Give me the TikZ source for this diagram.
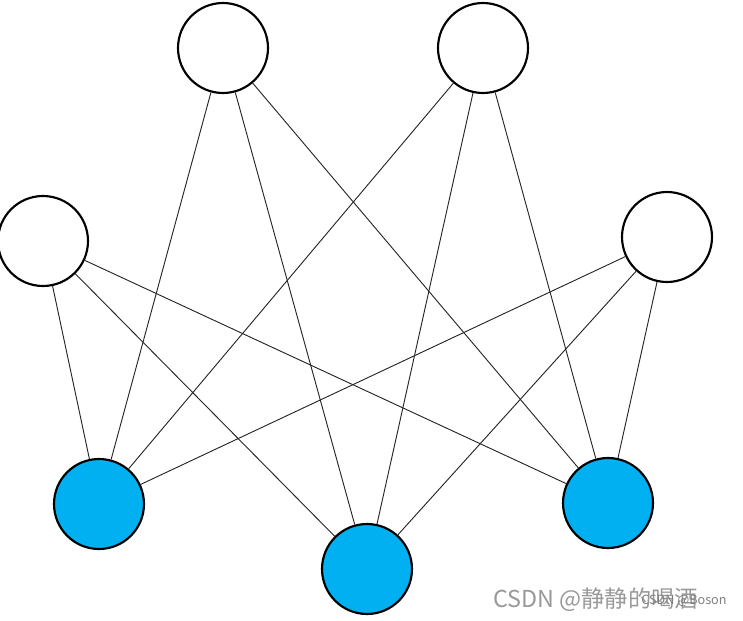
\documentclass[tikz,border=0pt]{standalone}
\usepackage{fontspec}
\newfontfamily\cjk{Noto Sans CJK SC}
\definecolor{nodeblue}{HTML}{00B0F0}
\begin{document}
\begin{tikzpicture}[x=0.75pt,y=-0.75pt,
  neuron/.style={circle,draw=black,line width=1.6pt,minimum size=67.5pt,inner sep=0pt,fill=white},
  outneuron/.style={neuron,fill=nodeblue},
  link/.style={draw=black!85,line width=0.7pt}]
\useasboundingbox (0,0) rectangle (743,621);
\node[neuron] (A) at (223,48) {};
\node[neuron] (B) at (483,48) {};
\node[neuron] (C) at (43,241) {};
\node[neuron] (D) at (667,237) {};
\node[outneuron] (E) at (99,504) {};
\node[outneuron] (F) at (367,569) {};
\node[outneuron] (G) at (608,503) {};
\foreach \s in {A,B,C,D}{
  \foreach \t in {E,F,G}{
    \draw[link] (\s) -- (\t);
  }
}
\node[anchor=base west,inner sep=0pt,text=black!40,font=\cjk\fontsize{17.5pt}{19pt}\selectfont] (wm) at (493,607) {CSDN @静静的喝酒};
\node[anchor=base west,inner sep=0pt,text=black!50,font=\cjk\fontsize{9.5pt}{11pt}\selectfont] (wm2) at (641,604) {CSDN @Boson};
\end{tikzpicture}
\end{document}
